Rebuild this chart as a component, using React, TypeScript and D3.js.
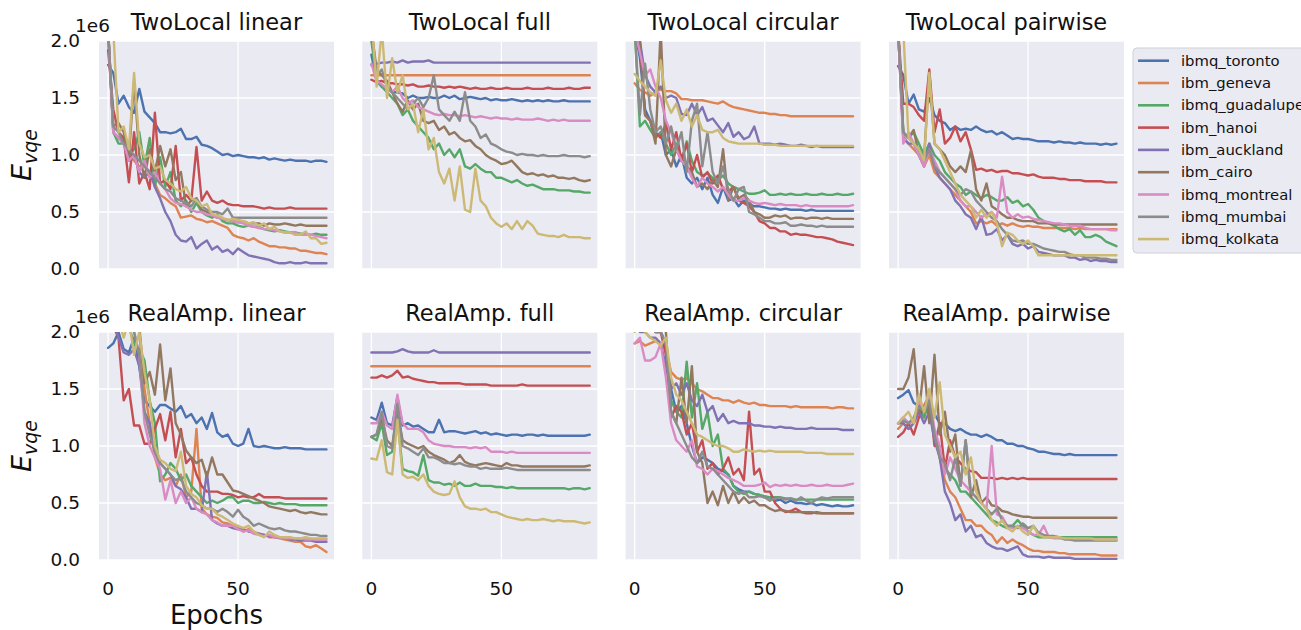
import React from 'react';
import * as d3 from 'd3';

// Backends shown in every panel, in legend order
const devices = [
  'ibmq_toronto', 'ibm_geneva', 'ibmq_guadalupe', 'ibm_hanoi', 'ibm_auckland',
  'ibm_cairo', 'ibmq_montreal', 'ibmq_mumbai', 'ibmq_kolkata',
];
const palette = ['#4C72B0', '#DD8452', '#55A868', '#C44E52', '#8172B3', '#937860', '#DA8BC3', '#8C8C8C', '#CCB974'];

// Sampled epochs (every second epoch)
const epochs = d3.range(0, 85, 2);
const yTicks = [0, 0.5, 1.0, 1.5, 2.0];
const yTickLabels = ['0.0', '0.5', '1.0', '1.5', '2.0'];
const xTicks = [0, 50];

// E_vqe in units of 1e6, one row per device (order of `devices`)
const twoLocalLinear = [
  [1.79,1.72,1.45,1.52,1.42,1.37,1.58,1.38,1.33,1.28, 1.2,1.2,1.19,1.2,1.23,1.14,1.14,1.16,1.09,1.08, 1.06,1.03,1.0,1.01,0.99,1.0,0.99,0.98,0.98,0.97, 0.98,0.96,0.97,0.96,0.95,0.96,0.95,0.95,0.95,0.94, 0.95,0.95,0.94],
  [2.1,1.2,1.15,1.15,1.0,0.95,0.9,0.9,0.85,0.75, 0.65,0.62,0.58,0.55,0.45,0.46,0.47,0.44,0.43,0.41, 0.42,0.4,0.38,0.36,0.3,0.28,0.27,0.25,0.27,0.24, 0.22,0.2,0.2,0.19,0.19,0.18,0.18,0.16,0.16,0.15, 0.14,0.14,0.13],
  [2.1,1.2,1.1,1.1,1.0,1.05,1.2,0.9,1.15,0.72, 0.98,0.72,0.85,0.6,0.55,0.6,0.5,0.58,0.5,0.47, 0.45,0.48,0.42,0.4,0.4,0.38,0.37,0.38,0.37,0.37, 0.35,0.34,0.33,0.34,0.33,0.32,0.32,0.31,0.31,0.3, 0.31,0.3,0.3],
  [1.92,1.4,1.2,1.15,0.76,1.2,0.75,0.85,0.7,1.37, 0.75,0.78,0.7,1.08,0.6,0.65,0.6,1.07,0.6,0.68, 0.6,0.58,0.6,0.57,0.56,0.56,0.55,0.55,0.55,0.54, 0.53,0.54,0.53,0.53,0.53,0.54,0.53,0.53,0.53,0.53, 0.53,0.53,0.53],
  [2.1,1.2,1.15,1.1,0.95,1.0,0.85,0.8,0.85,0.72, 0.62,0.5,0.42,0.3,0.25,0.24,0.28,0.18,0.22,0.25, 0.17,0.2,0.15,0.17,0.13,0.18,0.15,0.12,0.11,0.1, 0.09,0.08,0.06,0.05,0.05,0.06,0.05,0.05,0.06,0.05, 0.05,0.05,0.05],
  [2.1,1.25,1.28,1.2,0.98,1.65,1.0,0.8,1.05,0.85, 1.08,0.9,1.05,0.78,0.85,0.55,0.6,0.62,0.52,0.5, 0.47,0.45,0.44,0.43,0.42,0.41,0.42,0.4,0.4,0.4, 0.38,0.4,0.39,0.39,0.4,0.39,0.38,0.39,0.38,0.38, 0.38,0.38,0.38],
  [2.1,1.2,1.15,1.1,0.95,1.0,0.85,0.95,0.8,0.85, 0.75,0.7,0.62,0.58,0.57,0.55,0.52,0.5,0.5,0.48, 0.47,0.45,0.44,0.43,0.42,0.41,0.4,0.38,0.37,0.36, 0.35,0.35,0.34,0.33,0.32,0.32,0.32,0.3,0.3,0.3, 0.29,0.28,0.27],
  [2.1,1.25,1.2,1.1,1.05,1.0,0.95,0.9,0.85,0.8, 0.75,0.7,0.68,0.62,0.6,0.58,0.55,0.62,0.55,0.52, 0.5,0.5,0.48,0.53,0.45,0.45,0.45,0.45,0.45,0.45, 0.45,0.45,0.45,0.45,0.45,0.45,0.45,0.45,0.45,0.45, 0.45,0.45,0.45],
  [2.1,2.1,1.2,1.25,1.05,1.72,1.1,0.98,1.0,0.88, 0.9,0.78,0.75,0.7,0.68,0.72,0.62,0.6,0.55,0.57, 0.48,0.47,0.45,0.43,0.44,0.43,0.42,0.4,0.41,0.38, 0.4,0.35,0.37,0.33,0.32,0.32,0.3,0.3,0.33,0.27, 0.27,0.22,0.23],
];

const twoLocalFull = [
  [1.88,1.65,1.6,1.58,1.55,1.55,1.54,1.5,1.52,1.5, 1.5,1.51,1.5,1.5,1.52,1.5,1.52,1.49,1.5,1.51, 1.5,1.49,1.5,1.48,1.49,1.48,1.48,1.49,1.48,1.47, 1.48,1.47,1.48,1.47,1.48,1.47,1.47,1.48,1.47,1.47, 1.47,1.47,1.47],
  [1.7,1.7,1.7,1.7,1.7,1.7,1.7,1.7,1.7,1.7, 1.7,1.7,1.7,1.7,1.7,1.7,1.7,1.7,1.7,1.7, 1.7,1.7,1.7,1.7,1.7,1.7,1.7,1.7,1.7,1.7, 1.7,1.7,1.7,1.7,1.7,1.7,1.7,1.7,1.7,1.7, 1.7,1.7,1.7],
  [2.0,1.65,1.6,1.55,1.5,1.45,1.35,1.4,1.3,1.25, 1.2,1.15,1.05,1.1,1.0,1.05,0.98,1.05,0.9,0.88, 0.92,0.88,0.85,0.85,0.8,0.8,0.78,0.76,0.78,0.75, 0.73,0.74,0.72,0.7,0.7,0.7,0.69,0.69,0.69,0.68, 0.68,0.67,0.67],
  [1.66,1.64,1.65,1.63,1.63,1.62,1.62,1.61,1.62,1.6, 1.6,1.61,1.6,1.6,1.59,1.6,1.59,1.6,1.59,1.58, 1.59,1.58,1.58,1.59,1.58,1.58,1.59,1.58,1.58,1.58, 1.59,1.58,1.58,1.58,1.59,1.58,1.58,1.58,1.59,1.58, 1.58,1.59,1.59],
  [1.79,1.8,1.81,1.81,1.82,1.81,1.83,1.81,1.82,1.82, 1.82,1.83,1.81,1.81,1.81,1.81,1.81,1.81,1.81,1.81, 1.81,1.81,1.81,1.81,1.81,1.81,1.81,1.81,1.81,1.81, 1.81,1.81,1.81,1.81,1.81,1.81,1.81,1.81,1.81,1.81, 1.81,1.81,1.81],
  [2.1,1.75,1.7,1.65,1.55,1.45,1.38,1.48,1.4,1.45, 1.3,1.28,1.3,1.22,1.25,1.18,1.2,1.15,1.12,1.13, 1.08,1.05,1.0,0.97,0.95,0.92,0.93,0.95,0.9,0.85, 0.83,0.84,0.82,0.83,0.81,0.82,0.8,0.8,0.79,0.8, 0.78,0.77,0.78],
  [1.8,1.65,1.62,1.58,1.55,1.6,1.5,1.45,1.48,1.42, 1.4,1.38,1.36,1.35,1.36,1.35,1.35,1.34,1.35,1.34, 1.33,1.34,1.33,1.32,1.33,1.32,1.32,1.31,1.32,1.31, 1.31,1.31,1.32,1.31,1.3,1.31,1.3,1.31,1.3,1.3, 1.3,1.3,1.3],
  [2.1,1.7,1.75,1.6,1.55,1.5,1.45,1.4,1.45,1.5, 1.42,1.5,1.7,1.4,1.35,1.3,1.38,1.3,1.55,1.3, 1.25,1.15,1.18,1.1,1.08,1.05,1.03,1.02,1.0,1.01, 1.0,1.0,0.99,1.0,0.99,0.99,0.99,1.0,0.99,0.99, 0.99,0.98,0.99],
  [2.2,1.6,2.1,1.5,1.85,1.55,1.7,1.4,1.45,1.2, 1.4,1.05,1.15,0.85,0.75,0.88,0.6,0.9,0.52,0.5, 0.88,0.6,0.55,0.45,0.4,0.37,0.4,0.35,0.42,0.35, 0.42,0.38,0.31,0.3,0.29,0.29,0.28,0.3,0.28,0.28, 0.28,0.27,0.27],
];

const twoLocalCircular = [
  [2.1,1.85,1.4,1.3,1.15,1.2,1.0,1.05,0.9,1.0, 0.8,0.75,0.8,0.7,0.8,0.65,0.58,0.72,0.6,0.62, 0.55,0.6,0.57,0.55,0.55,0.54,0.53,0.53,0.52,0.53, 0.52,0.52,0.52,0.51,0.52,0.51,0.51,0.51,0.51,0.51, 0.51,0.51,0.51],
  [1.63,1.57,1.55,1.52,1.55,1.58,1.56,1.56,1.54,1.49, 1.49,1.48,1.48,1.48,1.47,1.46,1.45,1.47,1.44,1.42, 1.41,1.4,1.39,1.38,1.37,1.37,1.36,1.36,1.35,1.35, 1.34,1.34,1.34,1.34,1.34,1.34,1.34,1.34,1.34,1.34, 1.34,1.34,1.34],
  [2.1,1.25,1.3,1.22,1.15,1.2,1.1,1.0,1.1,0.95, 1.12,0.95,0.85,0.82,0.84,0.8,0.78,0.82,0.75,0.72, 0.7,0.68,0.66,0.66,0.67,0.69,0.65,0.65,0.66,0.65, 0.66,0.65,0.65,0.66,0.65,0.65,0.66,0.65,0.65,0.66, 0.65,0.65,0.66],
  [2.1,2.0,1.35,1.3,1.2,1.15,1.28,1.05,1.2,0.95, 1.1,0.85,1.0,0.8,0.85,0.75,0.82,0.7,0.68,0.72, 0.6,0.58,0.55,0.5,0.42,0.4,0.36,0.36,0.33,0.33, 0.3,0.31,0.3,0.3,0.29,0.28,0.28,0.27,0.26,0.24, 0.23,0.22,0.21],
  [2.1,2.0,1.7,1.6,1.55,1.6,1.5,1.52,1.5,1.36, 1.35,1.45,1.35,1.42,1.3,1.32,1.26,1.2,1.28,1.16, 1.2,1.14,1.16,1.25,1.1,1.1,1.1,1.09,1.1,1.09, 1.08,1.08,1.09,1.08,1.07,1.08,1.07,1.07,1.07,1.07, 1.07,1.07,1.07],
  [2.2,2.0,1.35,1.3,1.1,2.1,1.0,0.9,1.05,0.95, 0.9,0.85,0.72,0.75,0.7,0.78,0.72,1.05,0.6,0.72, 0.62,0.65,0.6,0.5,0.48,0.45,0.45,0.47,0.46,0.47, 0.44,0.45,0.45,0.44,0.45,0.45,0.44,0.45,0.44,0.44, 0.44,0.44,0.44],
  [2.1,1.9,1.7,1.75,1.6,1.5,1.3,1.2,1.05,0.95, 0.9,0.8,0.72,0.8,0.75,0.72,0.68,0.72,0.65,0.6, 0.6,0.62,0.6,0.58,0.57,0.58,0.57,0.56,0.57,0.56, 0.56,0.56,0.55,0.56,0.55,0.55,0.55,0.55,0.55,0.55, 0.55,0.55,0.56],
  [2.1,1.35,1.8,1.4,1.2,1.25,1.1,1.25,1.05,1.2, 0.85,1.3,1.45,0.9,1.2,0.85,0.75,0.9,0.7,0.6, 0.7,0.72,0.5,0.48,0.45,0.42,0.42,0.4,0.4,0.41, 0.38,0.38,0.39,0.38,0.38,0.37,0.38,0.37,0.37,0.37, 0.37,0.37,0.37],
  [1.71,1.65,1.6,1.55,1.52,1.83,1.48,1.37,1.45,1.3, 1.4,1.25,1.35,1.22,1.2,1.2,1.22,1.15,1.12,1.11, 1.1,1.1,1.1,1.1,1.1,1.09,1.09,1.09,1.08,1.08, 1.08,1.08,1.08,1.08,1.08,1.08,1.08,1.08,1.08,1.08, 1.08,1.08,1.08],
];

const twoLocalPairwise = [
  [1.78,1.7,1.45,1.53,1.4,1.38,1.5,1.35,1.3,1.28, 1.22,1.25,1.22,1.23,1.22,1.25,1.22,1.2,1.21,1.18, 1.2,1.17,1.14,1.15,1.14,1.14,1.13,1.12,1.12,1.12, 1.11,1.12,1.11,1.11,1.1,1.11,1.1,1.1,1.1,1.09, 1.1,1.09,1.1],
  [2.1,1.15,1.1,1.05,1.0,0.9,1.0,0.85,0.8,0.75, 0.7,0.65,0.6,0.55,0.5,0.4,0.42,0.4,0.42,0.38, 0.4,0.38,0.4,0.38,0.37,0.38,0.37,0.37,0.36,0.36, 0.36,0.36,0.36,0.36,0.35,0.36,0.35,0.35,0.35,0.35, 0.35,0.35,0.35],
  [2.1,1.2,1.15,1.2,1.1,1.0,1.1,1.0,0.95,0.85, 0.8,0.75,0.72,0.65,0.68,0.65,0.62,0.65,0.63,0.6, 0.6,0.63,0.58,0.6,0.55,0.57,0.52,0.45,0.42,0.4, 0.38,0.35,0.33,0.35,0.3,0.34,0.28,0.28,0.3,0.28, 0.24,0.22,0.2],
  [2.1,1.45,1.45,1.42,1.35,1.3,1.75,1.2,1.4,1.1, 1.15,1.25,1.12,1.2,1.05,0.87,0.88,0.86,0.87,0.85, 0.86,0.86,0.84,0.84,0.83,0.82,0.83,0.81,0.8,0.8, 0.8,0.79,0.79,0.78,0.78,0.78,0.77,0.77,0.77,0.77, 0.76,0.76,0.76],
  [2.1,1.15,1.1,1.1,1.0,0.9,1.1,0.9,0.8,0.75, 0.7,0.6,0.55,0.48,0.45,0.35,0.46,0.3,0.31,0.35, 0.25,0.3,0.22,0.2,0.22,0.18,0.2,0.15,0.14,0.13, 0.12,0.12,0.12,0.1,0.1,0.08,0.09,0.07,0.08,0.07, 0.07,0.06,0.06],
  [2.1,1.2,1.15,1.22,1.0,0.98,1.72,1.1,1.05,1.0, 0.9,0.85,0.9,0.85,1.04,0.7,0.6,0.75,0.55,0.52, 0.48,0.45,0.45,0.43,0.42,0.42,0.42,0.4,0.4,0.4, 0.39,0.39,0.39,0.39,0.39,0.39,0.39,0.39,0.39,0.39, 0.39,0.39,0.39],
  [2.1,1.1,1.2,1.1,1.0,0.9,1.05,0.95,0.85,0.8, 0.75,0.7,0.6,0.55,0.55,0.5,0.45,0.48,0.5,0.45, 0.81,0.5,0.45,0.48,0.45,0.46,0.44,0.43,0.42,0.41, 0.4,0.4,0.39,0.38,0.38,0.38,0.36,0.35,0.35,0.35, 0.35,0.34,0.34],
  [2.1,1.2,1.15,1.1,1.05,0.95,1.05,0.9,0.85,0.8, 0.75,0.7,0.65,0.7,0.68,0.6,0.55,0.5,0.45,0.42, 0.35,0.3,0.25,0.24,0.25,0.22,0.22,0.2,0.18,0.17, 0.16,0.15,0.15,0.13,0.12,0.12,0.1,0.1,0.1,0.09, 0.09,0.08,0.08],
  [2.2,2.1,1.15,1.1,1.05,0.95,1.72,1.1,1.05,0.95, 0.85,0.75,0.65,0.6,0.55,0.45,0.52,0.45,0.5,0.4, 0.2,0.32,0.3,0.25,0.22,0.25,0.2,0.12,0.12,0.12, 0.12,0.12,0.12,0.12,0.12,0.12,0.12,0.12,0.12,0.12, 0.12,0.12,0.12],
];

const realAmpLinear = [
  [1.86,1.9,2.0,1.85,1.82,1.95,1.7,1.4,1.35,1.3, 1.36,1.36,1.33,1.3,1.35,1.25,1.28,1.2,1.25,1.15, 1.29,1.12,1.08,1.1,1.02,1.0,1.02,1.15,1.0,0.99, 1.0,0.99,0.98,0.98,0.99,0.98,0.98,0.98,0.97,0.97, 0.97,0.97,0.97],
  [2.1,2.1,2.1,2.1,2.1,2.1,2.0,1.5,1.2,0.9, 0.75,0.7,0.72,0.65,0.75,0.55,0.6,1.15,0.45,0.4, 0.38,0.37,0.33,0.32,0.3,0.28,0.25,0.27,0.25,0.23, 0.22,0.2,0.2,0.19,0.18,0.17,0.16,0.16,0.12,0.11, 0.13,0.1,0.07],
  [2.1,2.1,2.1,2.1,2.05,1.9,1.85,1.75,1.4,1.2, 0.69,0.75,0.85,0.8,0.7,0.75,0.65,0.6,0.55,0.5, 0.52,0.5,0.52,0.55,0.55,0.5,0.52,0.52,0.5,0.5, 0.51,0.5,0.49,0.5,0.49,0.49,0.49,0.48,0.48,0.48, 0.48,0.48,0.48],
  [2.1,2.05,1.95,1.4,1.5,1.18,1.18,1.02,1.02,1.15, 1.28,1.05,1.3,0.9,1.15,0.85,0.9,0.75,0.65,0.6, 0.6,0.6,0.58,0.58,0.57,0.55,0.56,0.55,0.55,0.58, 0.55,0.55,0.55,0.55,0.54,0.54,0.54,0.54,0.54,0.54, 0.54,0.54,0.54],
  [2.1,2.1,1.95,1.82,1.8,1.85,1.7,1.3,1.2,0.95, 0.85,0.8,0.75,0.65,0.62,0.55,0.45,0.45,0.42,0.77, 0.35,0.32,0.3,0.3,0.28,0.27,0.27,0.25,0.24,0.23, 0.22,0.21,0.2,0.2,0.19,0.18,0.18,0.17,0.17,0.17, 0.16,0.16,0.16],
  [2.1,2.1,2.1,2.1,2.1,2.1,2.05,1.55,1.65,1.45, 1.89,1.4,1.68,1.2,1.1,0.96,0.9,0.85,0.88,0.73, 0.9,0.75,0.75,0.68,0.61,0.6,0.58,0.56,0.54,0.52, 0.5,0.47,0.46,0.45,0.44,0.43,0.44,0.42,0.41,0.42, 0.41,0.4,0.4],
  [2.1,2.1,2.1,2.1,2.1,2.0,1.8,1.2,1.0,0.9, 0.8,0.53,0.7,0.5,0.6,0.5,0.55,0.45,0.42,0.4, 0.35,0.33,0.3,0.3,0.3,0.27,0.25,0.26,0.23,0.22, 0.21,0.22,0.2,0.2,0.19,0.19,0.19,0.19,0.18,0.18, 0.18,0.18,0.18],
  [2.1,2.1,2.1,2.1,2.1,2.0,1.8,1.3,1.1,0.95, 0.85,0.8,0.75,0.7,0.72,0.6,0.55,0.5,0.48,0.45, 0.45,0.42,0.45,0.42,0.38,0.44,0.38,0.35,0.3,0.32, 0.3,0.28,0.27,0.28,0.26,0.25,0.25,0.24,0.23,0.22, 0.22,0.21,0.21],
  [2.1,2.1,2.1,1.95,2.1,1.8,2.0,1.65,1.4,1.0, 0.88,0.85,0.8,0.78,0.95,0.65,0.58,0.55,0.48,0.45, 0.45,0.4,0.38,0.35,0.32,0.3,0.28,0.3,0.25,0.22, 0.2,0.25,0.22,0.2,0.2,0.2,0.19,0.19,0.2,0.19, 0.19,0.19,0.19],
];

const realAmpFull = [
  [1.25,1.23,1.38,1.2,1.18,1.43,1.18,1.2,1.17,1.18, 1.15,1.12,1.12,1.23,1.12,1.13,1.13,1.12,1.11,1.12, 1.13,1.11,1.12,1.1,1.11,1.1,1.09,1.1,1.1,1.09, 1.1,1.1,1.09,1.1,1.09,1.09,1.09,1.09,1.09,1.09, 1.09,1.09,1.1],
  [1.7,1.7,1.7,1.7,1.7,1.7,1.7,1.7,1.7,1.7, 1.7,1.7,1.7,1.7,1.7,1.7,1.7,1.7,1.7,1.7, 1.7,1.7,1.7,1.7,1.7,1.7,1.7,1.7,1.7,1.7, 1.7,1.7,1.7,1.7,1.7,1.7,1.7,1.7,1.7,1.7, 1.7,1.7,1.7],
  [1.08,1.05,1.2,0.92,0.95,1.25,0.8,0.78,0.77,0.74, 0.92,0.7,0.68,0.68,0.66,0.67,0.65,0.68,0.65,0.65, 0.67,0.65,0.65,0.65,0.64,0.64,0.63,0.64,0.63,0.63, 0.63,0.63,0.63,0.63,0.63,0.63,0.63,0.63,0.62,0.63, 0.63,0.62,0.63],
  [1.6,1.6,1.62,1.6,1.62,1.66,1.6,1.61,1.59,1.58, 1.57,1.56,1.56,1.55,1.55,1.55,1.55,1.55,1.54,1.54, 1.54,1.54,1.54,1.53,1.53,1.53,1.53,1.53,1.53,1.54, 1.53,1.53,1.53,1.53,1.53,1.53,1.53,1.53,1.53,1.53, 1.53,1.53,1.53],
  [1.82,1.82,1.82,1.82,1.82,1.83,1.85,1.83,1.82,1.82, 1.82,1.82,1.84,1.82,1.82,1.82,1.82,1.82,1.82,1.82, 1.82,1.82,1.82,1.82,1.82,1.82,1.82,1.82,1.82,1.82, 1.82,1.82,1.82,1.82,1.82,1.82,1.82,1.82,1.82,1.82, 1.82,1.82,1.82],
  [1.08,1.1,1.25,1.05,1.0,1.3,1.05,1.02,1.0,0.98, 1.0,0.95,0.92,0.9,0.88,0.85,0.87,0.92,0.86,0.84, 0.83,0.84,0.85,0.84,0.83,0.82,0.85,0.83,0.83,0.82, 0.82,0.82,0.82,0.82,0.82,0.82,0.82,0.82,0.82,0.82, 0.82,0.82,0.83],
  [1.2,1.2,1.3,1.18,1.15,1.45,1.2,1.15,1.15,1.15, 1.12,1.05,1.02,1.01,1.0,1.0,0.99,0.99,0.99,0.98, 0.99,0.98,0.99,0.95,0.95,0.95,0.94,0.95,0.94,0.94, 0.94,0.94,0.94,0.94,0.94,0.94,0.94,0.94,0.94,0.94, 0.94,0.94,0.94],
  [1.08,1.1,1.3,1.0,0.98,1.37,1.0,0.98,0.95,0.92, 0.98,0.9,0.9,0.88,0.85,0.85,0.84,0.85,0.83,0.82, 0.82,0.8,0.81,0.8,0.8,0.8,0.81,0.8,0.79,0.79, 0.79,0.79,0.79,0.79,0.79,0.79,0.79,0.79,0.79,0.79, 0.79,0.79,0.79],
  [0.89,0.88,1.05,0.77,0.75,1.23,0.75,0.72,0.73,0.7, 0.75,0.65,0.6,0.58,0.57,0.58,0.69,0.55,0.47,0.45, 0.45,0.44,0.45,0.42,0.42,0.4,0.38,0.37,0.36,0.35, 0.36,0.35,0.35,0.36,0.35,0.34,0.35,0.34,0.34,0.34, 0.33,0.32,0.33],
];

const realAmpCircular = [
  [2.1,2.1,2.1,2.05,2.0,2.0,1.9,1.5,1.3,1.35, 1.2,1.0,0.85,0.9,0.88,0.85,0.8,0.78,0.75,0.65, 0.62,0.6,0.6,0.58,0.57,0.55,0.55,0.52,0.53,0.5, 0.52,0.5,0.5,0.49,0.5,0.48,0.49,0.48,0.47,0.48, 0.47,0.47,0.48],
  [1.9,1.92,1.88,1.9,1.92,1.9,1.85,1.65,1.6,1.58, 1.6,1.55,1.5,1.48,1.45,1.42,1.42,1.4,1.4,1.38, 1.4,1.38,1.37,1.38,1.36,1.36,1.35,1.35,1.35,1.35, 1.34,1.35,1.34,1.34,1.34,1.34,1.34,1.34,1.33,1.34, 1.34,1.33,1.33],
  [2.1,2.1,2.1,2.1,2.05,2.0,1.9,1.4,1.3,1.25, 1.74,1.25,1.55,1.15,1.3,1.0,1.1,0.8,0.75,0.65, 0.6,0.58,0.6,0.58,0.57,0.56,0.55,0.55,0.55,0.54, 0.54,0.53,0.53,0.53,0.53,0.53,0.53,0.53,0.53,0.53, 0.53,0.53,0.53],
  [2.1,2.1,2.1,2.05,2.0,2.0,1.8,1.25,1.35,1.3, 1.1,1.2,0.95,1.05,0.8,0.85,0.75,0.8,0.9,0.75, 0.8,0.7,1.3,0.75,0.8,0.6,0.6,0.5,0.45,0.42, 0.43,0.45,0.42,0.41,0.41,0.42,0.41,0.41,0.41,0.41, 0.41,0.41,0.41],
  [2.1,2.0,2.0,1.95,1.95,1.9,1.7,1.5,1.55,1.45, 1.55,1.4,1.35,1.45,1.3,1.35,1.22,1.28,1.2,1.22, 1.2,1.2,1.2,1.18,1.18,1.17,1.17,1.16,1.17,1.16, 1.16,1.15,1.15,1.15,1.16,1.15,1.15,1.15,1.15,1.15, 1.14,1.14,1.14],
  [2.1,2.1,2.1,2.1,2.05,2.05,2.0,1.3,1.2,1.6, 1.2,1.7,0.95,0.85,0.5,0.6,0.48,0.65,0.5,0.6, 0.5,0.55,0.5,0.52,0.48,0.48,0.45,0.43,0.44,0.43, 0.42,0.42,0.42,0.42,0.42,0.41,0.41,0.41,0.41,0.41, 0.41,0.41,0.41],
  [1.9,1.95,1.75,1.75,1.78,1.9,1.6,1.2,1.05,1.0, 0.95,1.05,0.82,0.8,0.75,0.8,0.78,0.75,0.72,0.7, 0.68,0.65,0.65,0.65,0.66,0.68,0.64,0.66,0.65,0.66, 0.65,0.66,0.65,0.65,0.66,0.65,0.65,0.66,0.65,0.65, 0.65,0.66,0.67],
  [2.1,2.1,2.1,2.05,2.0,2.0,1.9,1.3,1.2,1.1, 1.0,0.9,0.85,0.95,0.82,0.8,0.75,0.7,0.65,0.6, 0.58,0.6,0.55,0.55,0.56,0.55,0.52,0.54,0.55,0.53, 0.54,0.52,0.55,0.52,0.5,0.53,0.55,0.54,0.55,0.55, 0.55,0.55,0.55],
  [2.0,2.05,2.0,1.95,1.92,1.88,1.95,1.6,1.45,1.4, 1.3,1.2,1.1,1.08,1.05,1.02,1.0,1.0,0.98,0.95, 0.95,0.97,0.96,0.95,0.96,0.95,0.96,0.95,0.95,0.95, 0.95,0.95,0.95,0.94,0.94,0.94,0.94,0.93,0.93,0.93, 0.93,0.93,0.93],
];

const realAmpPairwise = [
  [1.42,1.45,1.49,1.38,1.35,1.3,1.3,1.28,1.2,1.2, 1.15,1.13,1.15,1.12,1.1,1.1,1.08,1.1,1.08,1.05, 1.05,1.02,1.02,1.0,1.0,0.98,0.97,0.95,0.95,0.94, 0.93,0.93,0.92,0.93,0.92,0.92,0.92,0.92,0.92,0.92, 0.92,0.92,0.92],
  [1.15,1.2,1.15,1.2,1.3,1.25,1.4,1.1,0.9,0.7, 0.6,0.55,0.45,0.35,0.35,0.3,0.3,0.25,0.22,0.15, 0.2,0.15,0.18,0.15,0.13,0.1,0.08,0.08,0.07,0.07, 0.07,0.06,0.06,0.05,0.05,0.05,0.05,0.05,0.05,0.04, 0.04,0.04,0.04],
  [1.2,1.25,1.2,1.22,1.35,1.25,1.4,1.1,0.95,0.8, 0.75,0.7,0.6,0.6,0.55,0.5,0.45,0.4,0.35,0.33, 0.3,0.28,0.3,0.35,0.3,0.25,0.22,0.2,0.2,0.2, 0.2,0.2,0.2,0.2,0.2,0.2,0.2,0.2,0.2,0.2, 0.2,0.2,0.2],
  [1.08,1.12,1.2,1.1,1.25,1.35,1.45,1.0,1.2,0.8, 1.05,0.9,0.85,0.8,0.78,0.77,0.72,0.72,0.72,0.71, 0.72,0.71,0.72,0.71,0.72,0.71,0.71,0.71,0.71,0.71, 0.71,0.71,0.71,0.71,0.71,0.71,0.71,0.71,0.71,0.71, 0.71,0.71,0.71],
  [1.2,1.2,1.15,1.2,1.3,1.2,1.3,1.05,0.9,0.6, 0.5,0.35,0.4,0.25,0.3,0.2,0.22,0.15,0.12,0.1, 0.1,0.08,0.1,0.12,0.05,0.03,0.03,0.03,0.02,0.03, 0.02,0.02,0.02,0.02,0.01,0.01,0.01,0.01,0.01,0.01, 0.01,0.01,0.01],
  [1.5,1.5,1.6,1.85,1.3,1.7,1.2,1.8,1.1,1.3, 0.95,1.1,0.65,1.05,0.55,0.7,0.5,0.55,0.48,0.47, 0.43,0.42,0.4,0.39,0.38,0.38,0.37,0.37,0.37,0.37, 0.37,0.37,0.37,0.37,0.37,0.37,0.37,0.37,0.37,0.37, 0.37,0.37,0.37],
  [1.2,1.25,1.2,1.22,1.4,1.3,1.45,1.15,1.0,0.75, 0.9,0.8,0.7,0.65,0.6,0.55,0.5,0.45,1.0,0.4, 0.38,0.3,0.28,0.3,0.28,0.25,0.22,0.22,0.3,0.2, 0.19,0.19,0.19,0.18,0.18,0.18,0.18,0.18,0.18,0.18, 0.18,0.18,0.18],
  [1.2,1.22,1.2,1.25,1.35,1.3,1.4,1.1,0.9,0.85, 0.7,0.9,0.65,1.05,0.6,0.55,0.5,0.45,0.4,0.45, 0.35,0.3,0.3,0.28,0.32,0.28,0.3,0.24,0.22,0.21, 0.21,0.2,0.18,0.18,0.17,0.17,0.17,0.17,0.17,0.17, 0.17,0.17,0.17],
  [1.2,1.25,1.3,1.2,1.45,1.3,1.5,1.25,1.56,1.1, 1.0,0.9,0.95,0.75,0.9,0.6,0.5,0.45,0.35,0.3, 0.35,0.28,0.25,0.3,0.25,0.22,0.3,0.22,0.2,0.2, 0.2,0.2,0.19,0.19,0.19,0.19,0.19,0.19,0.18,0.18, 0.18,0.18,0.18],
];

const panels = [
  { title: 'TwoLocal linear', data: twoLocalLinear },
  { title: 'TwoLocal full', data: twoLocalFull },
  { title: 'TwoLocal circular', data: twoLocalCircular },
  { title: 'TwoLocal pairwise', data: twoLocalPairwise },
  { title: 'RealAmp. linear', data: realAmpLinear },
  { title: 'RealAmp. full', data: realAmpFull },
  { title: 'RealAmp. circular', data: realAmpCircular },
  { title: 'RealAmp. pairwise', data: realAmpPairwise },
];

const W = 1301;
const H = 630;
const FONT = '"DejaVu Sans", Verdana, sans-serif';
const colLeft = [99, 362.3, 625.6, 889];
const rowTop = [41, 332];
const PW = 235;
const PH = 228;
const BG = '#EAEAF2';

function Panel({ idx }: { idx: number }) {
  const { title, data } = panels[idx];
  const col = idx % 4;
  const row = Math.floor(idx / 4);
  const left = colLeft[col];
  const top = rowTop[row];
  const x = d3.scaleLinear().domain([-3.5, 86.9]).range([left, left + PW]);
  const y = d3.scaleLinear().domain([0, 2]).range([top + PH, top]);
  const line = d3.line<number>()
    .x((_, i) => x(epochs[i]))
    .y((v) => y(v));
  const clipId = `clip-${idx}`;
  return (
    <g>
      <defs>
        <clipPath id={clipId}>
          <rect x={left} y={top} width={PW} height={PH} />
        </clipPath>
      </defs>
      <rect x={left} y={top} width={PW} height={PH} fill={BG} />
      {yTicks.map((t) => (
        <line key={`gy${t}`} x1={left} x2={left + PW} y1={y(t)} y2={y(t)} stroke="#fff" strokeWidth={1.3} />
      ))}
      {xTicks.map((t) => (
        <line key={`gx${t}`} x1={x(t)} x2={x(t)} y1={top} y2={top + PH} stroke="#fff" strokeWidth={1.3} />
      ))}
      <g clipPath={`url(#${clipId})`}>
        {data.map((series, k) => (
          <path key={k} d={line(series) || ''} fill="none" stroke={palette[k]} strokeWidth={2.4}
            strokeLinejoin="round" strokeLinecap="round" />
        ))}
      </g>
      <text x={left + PW / 2} y={row === 0 ? 30 : 321} textAnchor="middle" fontSize={22.5} fill="#111">{title}</text>
      {col === 0 && yTicks.map((t, i) => (
        <text key={`ty${t}`} x={80} y={y(t)} dy="0.35em" textAnchor="end" fontSize={18.5} fill="#111">{yTickLabels[i]}</text>
      ))}
      {col === 0 && (
        <text x={75} y={top - 9} fontSize={18.5} fill="#111">1e6</text>
      )}
      {col === 0 && (
        <text transform={`translate(31,${top + PH / 2}) rotate(-90)`} textAnchor="middle" fontSize={27} fill="#111">
          <tspan fontStyle="italic">E</tspan>
          <tspan fontStyle="italic" fontSize={19} dy={6}>vqe</tspan>
        </text>
      )}
      {row === 1 && xTicks.map((t) => (
        <text key={`tx${t}`} x={x(t)} y={595} textAnchor="middle" fontSize={18.5} fill="#111">{t}</text>
      ))}
    </g>
  );
}

function Legend() {
  const x0 = 1133;
  const y0 = 48;
  const rowStep = 22.3;
  const firstY = 60.7;
  return (
    <g>
      <rect x={x0} y={y0} width={190} height={205} rx={4} fill={BG} stroke="#cfcfd6" strokeWidth={1} />
      {devices.map((d, i) => {
        const yy = firstY + i * rowStep;
        return (
          <g key={d}>
            <line x1={1138} x2={1169} y1={yy} y2={yy} stroke={palette[i]} strokeWidth={2.6} />
            <text x={1181} y={yy} dy="0.35em" fontSize={14.8} fill="#111">{d}</text>
          </g>
        );
      })}
    </g>
  );
}

export default function App() {
  return (
    <svg width={W} height={H} style={{ position: 'absolute', left: 0, top: 0, background: '#fff' }}
      fontFamily={FONT}>
      {panels.map((_, i) => <Panel key={i} idx={i} />)}
      <Legend />
      <text x={colLeft[0] + PW / 2} y={624} textAnchor="middle" fontSize={26} fill="#111">Epochs</text>
    </svg>
  );
}
